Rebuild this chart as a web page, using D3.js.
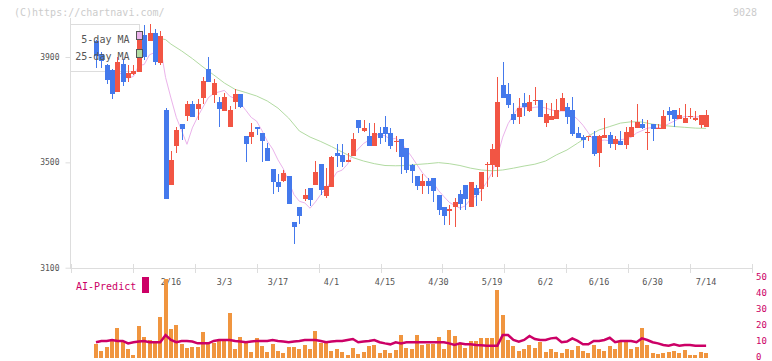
<!DOCTYPE html>
<html>
<head>
<meta charset="utf-8">
<script src="https://cdn.jsdelivr.net/npm/d3@7"></script>
<style>
  body { margin: 0; background: #fff; }
  svg { display: block; }
  text { font-family: "DejaVu Sans Mono", monospace; }
</style>
</head>
<body>
<script>
// date labels and the candle index they sit on
const dateLabels = ['2/16','3/3','3/17','4/1','4/15','4/30','5/19','6/2','6/16','6/30','7/14'];
const dateIdx = [14,24,34,44,54,64,74,84,94,104,114];

const priceTicks = [3100, 3500, 3900];
const volTicks = [0, 10, 20, 30, 40, 50];

const open = [3962,3911,3871,3852,3767,3873,3820,3837,3843,3984,
  3962,3991,3877,3699,3415,3563,3645,3677,3721,3702,
  3744,3856,3757,3729,3696,3635,3728,3759,3600,3597,
  3635,3611,3554,3474,3425,3430,3448,3273,3330,3360,
  3402,3415,3493,3373,3407,3535,3529,3502,3525,3661,
  3620,3600,3563,3611,3634,3611,3578,3588,3554,3490,
  3448,3411,3431,3440,3376,3330,3316,3331,3379,3414,
  3331,3402,3400,3490,3490,3482,3794,3759,3683,3673,
  3725,3696,3735,3737,3649,3661,3666,3696,3710,3699,
  3611,3596,3597,3600,3536,3592,3604,3571,3581,3567,
  3597,3631,3645,3612,3645,3629,3628,3695,3699,3666,
  3650,3672,3662,3643,3635];
const high = [3965,3919,3873,3854,3899,3894,3868,3871,3999,4020,
  4025,4008,3998,3706,3544,3633,3645,3732,3733,3742,
  3823,3899,3816,3748,3763,3714,3778,3759,3600,3649,
  3635,3611,3572,3474,3457,3472,3448,3273,3330,3398,
  3402,3506,3493,3478,3526,3569,3569,3535,3611,3661,
  3661,3649,3649,3634,3675,3630,3599,3588,3554,3495,
  3448,3457,3440,3440,3376,3330,3339,3364,3395,3414,
  3426,3414,3463,3500,3569,3824,3881,3801,3725,3744,
  3763,3754,3786,3737,3725,3725,3742,3763,3725,3748,
  3634,3602,3600,3618,3605,3668,3615,3601,3619,3634,
  3662,3721,3664,3661,3645,3645,3699,3710,3699,3706,
  3721,3706,3695,3680,3699];
const low = [3858,3858,3797,3742,3767,3789,3805,3830,3843,3889,
  3962,3871,3868,3362,3415,3535,3586,3658,3673,3662,
  3721,3804,3725,3633,3696,3635,3702,3706,3503,3569,
  3602,3501,3506,3381,3386,3425,3343,3191,3267,3352,
  3336,3415,3377,3363,3407,3482,3482,3502,3525,3611,
  3615,3563,3563,3571,3578,3552,3540,3457,3459,3421,
  3396,3381,3381,3348,3301,3263,3263,3254,3320,3320,
  3331,3335,3352,3407,3445,3445,3743,3705,3645,3645,
  3677,3691,3719,3673,3635,3661,3666,3696,3645,3601,
  3592,3555,3582,3525,3482,3592,3555,3548,3567,3552,
  3597,3631,3626,3548,3582,3628,3628,3658,3635,3666,
  3650,3666,3658,3630,3635];
const close = [3903,3886,3814,3759,3881,3805,3839,3848,3966,3899,
  3991,3881,3979,3362,3510,3624,3626,3721,3673,3721,
  3810,3804,3801,3702,3748,3699,3759,3710,3571,3615,
  3628,3582,3506,3424,3407,3459,3343,3255,3297,3376,
  3358,3463,3396,3409,3521,3525,3502,3509,3588,3630,
  3630,3563,3611,3592,3609,3563,3581,3521,3471,3468,
  3411,3431,3411,3392,3320,3297,3322,3350,3343,3362,
  3425,3377,3463,3493,3550,3729,3743,3718,3662,3706,
  3710,3729,3738,3673,3682,3677,3699,3744,3673,3609,
  3592,3586,3600,3533,3600,3604,3571,3588,3567,3615,
  3634,3653,3631,3615,3628,3631,3676,3680,3666,3680,
  3668,3676,3669,3680,3680];

const volume = [8.3,4.2,6.6,10.4,18.6,10.4,5.2,1.9,19.7,12.9,
  10.8,9.6,25.3,48.9,17.8,20.3,8.5,6,6.6,6.6,
  16,9.6,9.1,10.8,11.6,27.8,5.4,12.9,10.2,3.7,
  12.2,7.5,3.5,8.5,4.2,2.9,6.6,6.6,5.4,7.9,
  5.4,16.6,9.1,9.8,4.2,5.4,3.5,1.9,6,2.5,
  3.7,7.5,8.1,3.1,4.8,3.1,4.8,14.1,6.2,5.4,
  14.1,7.9,8.7,8.7,12.9,5.4,17.2,13.5,8.5,6,
  10.4,10.4,12.2,12.2,12.2,42,26.5,11,7.3,4.2,
  5.4,7.9,6,9.8,3.5,5.4,3.5,2.9,5.4,4.8,
  7.3,4.2,3.1,7.9,5.4,4.2,7.3,5.4,9.8,9.8,
  5.4,6.6,18.4,7.9,2.9,2.3,2.9,3.5,4.2,2.9,
  4.8,1.7,1.7,3.5,2.9];

const aiPredict = [9.6,10.4,10.4,11,10.4,10.4,8.9,9.6,10,10.4,
  9.6,9.6,9.6,14,11,9.6,10.4,10.4,10,8.9,
  8.9,8.9,10.4,11,11,11,10.4,10,9.6,10,
  10.4,10.4,10.4,11,10.4,10,9.6,10,10.4,11,
  11,11,10.4,9.6,10,10.4,10.4,11,11.6,9.6,
  10,10.4,11,9.6,8.9,8.3,9.6,8.9,9.6,9.6,
  9.6,9.6,9.6,9.6,9.6,9.6,8.9,7.9,8.9,8.3,
  8.3,7.9,7.7,7.5,7.5,7.5,14.1,14.1,11,10,
  11,13.5,11.6,11,11,12,12.4,9.6,10,12,
  10.4,8.3,8.3,10.4,10.4,11,12.4,9.6,10.4,10.4,
  10.4,9.6,12,11,9.6,8.9,7.9,7.5,8.3,7.5,
  7.9,7.9,7.5,7.5,7.5];

// 25-day MA (candle index, value)
const ma25Idx = [12,13,14,16,18,20,22,24,26,28,30,32,34,36,38,40,42,44,46,48,
  50,52,54,56,58,60,62,64,66,68,70,72,74,76,78,80,82,84,86,88,
  90,92,94,96,98,100,102,104,106,108,110,112,114];
const ma25 = [3970,3966,3949,3923,3894,3862,3832,3801,3777,3765,3752,3733,3706,3668,3619,3596,3579,3560,3539,3518,
  3505,3495,3488,3487,3488,3492,3495,3499,3495,3488,3478,3471,3468,3471,3478,3486,3493,3505,3528,3547,
  3573,3600,3623,3636,3649,3654,3653,3645,3640,3636,3633,3630,3629];

const WIDTH = 772;
const HEIGHT = 361;
const UP = '#f25544';
const DOWN = '#4479ec';
const CRIMSON = '#cc0066';

const svg = d3.select('body').append('svg')
  .attr('width', WIDTH)
  .attr('height', HEIGHT);

const x = d3.scaleLinear().domain([0, close.length - 1]).range([96, 706.1]);
const y = d3.scaleLinear().domain([3100, 3900]).range([267.7, 57]);
const yv = d3.scaleLinear().domain([0, 50]).range([357.7, 277.2]);
const grid = d3.scaleLinear().domain([0, 11]).range([71, 752]);

// header texts
svg.append('text').attr('x', 14).attr('y', 15.5)
  .attr('font-size', 10).attr('fill', '#cccccc')
  .text('(C)https://chartnavi.com/');
svg.append('text').attr('x', 757).attr('y', 15.5)
  .attr('text-anchor', 'end').attr('font-size', 10).attr('fill', '#cccccc')
  .text('9028');

// legend box (under the candles)
svg.append('rect')
  .attr('x', 70.5).attr('y', 24.5).attr('width', 69).attr('height', 47)
  .attr('fill', '#fff').attr('stroke', '#dddddd');

// frame
svg.append('line').attr('x1', 70.5).attr('x2', 70.5).attr('y1', 18).attr('y2', 268)
  .attr('stroke', '#dddddd');
svg.append('line').attr('x1', 70).attr('x2', 752).attr('y1', 268.5).attr('y2', 268.5)
  .attr('stroke', '#dddddd');
svg.append('g').selectAll('line')
  .data(d3.range(12))
  .enter().append('line')
  .attr('x1', d => Math.round(grid(d)) + 0.5)
  .attr('x2', d => Math.round(grid(d)) + 0.5)
  .attr('y1', 264).attr('y2', 273)
  .attr('stroke', '#dddddd');

// price axis
const axisY = d3.axisLeft(y).tickValues(priceTicks).tickFormat(d => d)
  .tickSize(5).tickPadding(6);
const gy = svg.append('g').attr('transform', 'translate(70.5,0)').call(axisY);
gy.select('.domain').remove();
gy.selectAll('line').attr('stroke', '#dddddd');
gy.selectAll('text').attr('font-size', 8).attr('fill', '#555')
  .attr('font-family', '"DejaVu Sans Mono", monospace');

// date labels
svg.append('g').selectAll('text')
  .data(dateLabels)
  .enter().append('text')
  .attr('x', (d, i) => x(dateIdx[i]))
  .attr('y', 285)
  .attr('text-anchor', 'middle')
  .attr('font-size', 8.5)
  .attr('fill', '#555')
  .text(d => d);

// moving averages
const ma5 = close.map((c, i) => i < 4 ? null : d3.mean(close.slice(i - 4, i + 1)));
const line5 = d3.line()
  .defined(d => d != null)
  .x((d, i) => x(i))
  .y(d => y(d));
svg.append('path').datum(ma5)
  .attr('d', line5)
  .attr('fill', 'none').attr('stroke', '#ebb3eb').attr('stroke-width', 1);

const line25 = d3.line()
  .x((d, i) => x(ma25Idx[i]))
  .y(d => y(d));
svg.append('path').datum(ma25)
  .attr('d', line25)
  .attr('fill', 'none').attr('stroke', '#b2dba2').attr('stroke-width', 1);

// candles
const candles = svg.append('g').attr('shape-rendering', 'crispEdges');
candles.selectAll('line')
  .data(close)
  .enter().append('line')
  .attr('x1', (d, i) => Math.round(x(i)) + 0.5)
  .attr('x2', (d, i) => Math.round(x(i)) + 0.5)
  .attr('y1', (d, i) => y(high[i]))
  .attr('y2', (d, i) => y(low[i]))
  .attr('stroke', (d, i) => d >= open[i] ? UP : DOWN);
candles.selectAll('rect')
  .data(close)
  .enter().append('rect')
  .attr('x', (d, i) => Math.round(x(i)) - 2)
  .attr('width', 5)
  .attr('y', (d, i) => y(Math.max(d, open[i])))
  .attr('height', (d, i) => Math.max(1, Math.abs(y(d) - y(open[i]))))
  .attr('fill', (d, i) => d >= open[i] ? UP : DOWN);

// legend texts and swatches
svg.append('text').attr('x', 129.5).attr('y', 43).attr('text-anchor', 'end')
  .attr('font-size', 10).attr('fill', '#555').text('5-day MA');
svg.append('text').attr('x', 129.5).attr('y', 60).attr('text-anchor', 'end')
  .attr('font-size', 10).attr('fill', '#555').text('25-day MA');
svg.append('rect').attr('x', 136.5).attr('y', 31.5).attr('width', 6).attr('height', 8)
  .attr('fill', '#ebb3eb').attr('stroke', '#555');
svg.append('rect').attr('x', 136.5).attr('y', 49.5).attr('width', 6).attr('height', 8)
  .attr('fill', '#b2dba2').attr('stroke', '#555');

// volume panel
svg.append('g').attr('shape-rendering', 'crispEdges')
  .selectAll('rect')
  .data(volume)
  .enter().append('rect')
  .attr('x', (d, i) => Math.round(x(i)) - 2)
  .attr('width', 4)
  .attr('y', d => yv(d))
  .attr('height', d => yv(0) - yv(d))
  .attr('fill', '#f0953f');

svg.append('path').datum(aiPredict)
  .attr('d', d3.line().x((d, i) => x(i)).y(d => yv(d)))
  .attr('fill', 'none').attr('stroke', CRIMSON).attr('stroke-width', 2.5);

const axisV = d3.axisRight(yv).tickValues(volTicks).tickSize(0).tickPadding(4);
const gv = svg.append('g').attr('transform', 'translate(752,-1)').call(axisV);
gv.select('.domain').remove();
gv.selectAll('text').attr('font-size', 9).attr('fill', CRIMSON)
  .attr('font-family', '"DejaVu Sans Mono", monospace');

svg.append('text').attr('x', 76).attr('y', 290)
  .attr('font-size', 10).attr('fill', CRIMSON).text('AI-Predict');
svg.append('rect').attr('x', 142).attr('y', 277).attr('width', 7).attr('height', 16)
  .attr('fill', CRIMSON);
</script>
</body>
</html>
